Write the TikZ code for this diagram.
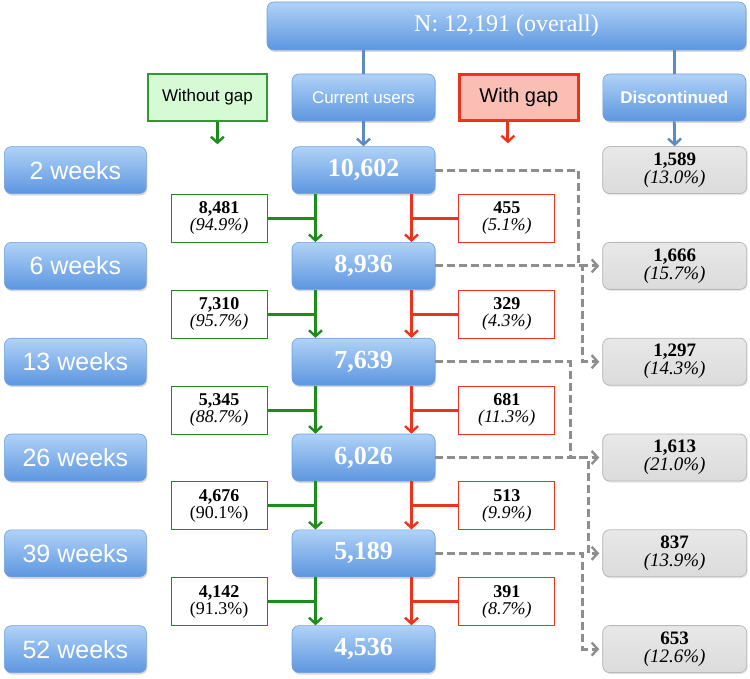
\documentclass[tikz,border=0pt]{standalone}
\usepackage{fontspec}
\setmainfont{Liberation Serif}
\setsansfont{Liberation Sans}
\usepackage{xcolor}
\usetikzlibrary{arrows.meta,positioning,shadows}

\definecolor{bluetop}{RGB}{176,210,247}
\definecolor{bluebot}{RGB}{92,150,224}
\definecolor{blueedge}{RGB}{112,160,218}
\definecolor{blueline}{RGB}{92,138,194}
\definecolor{keepgreen}{RGB}{28,140,28}
\definecolor{gapred}{RGB}{236,52,28}
\definecolor{gapfill}{RGB}{250,190,180}
\definecolor{keepfill}{RGB}{214,250,212}
\definecolor{dropgray}{RGB}{142,142,142}

\begin{document}
\begin{tikzpicture}[
  x=1pt, y=-1pt,
  bluebox/.style={draw=blueedge, line width=0.6pt, rounded corners=7pt,
    top color=bluetop, bottom color=bluebot, text=white, inner sep=0pt,
    minimum width=143pt, minimum height=47pt,
    drop shadow={shadow xshift=1pt, shadow yshift=-2pt, opacity=0.3}},
  topbox/.style={bluebox, minimum width=479pt, minimum height=48pt,
    font=\fontsize{24}{26}\selectfont},
  headbox/.style={bluebox, minimum height=47pt, font=\sffamily\fontsize{17}{19}\selectfont},
  weekbox/.style={bluebox, minimum width=142pt, font=\sffamily\fontsize{25}{28}\selectfont},
  userbox/.style={bluebox, font=\bfseries\fontsize{26}{28}\selectfont},
  nogaphead/.style={draw=keepgreen!90, line width=1.6pt, fill=keepfill, inner sep=0pt,
    minimum width=119pt, minimum height=47pt, font=\sffamily\fontsize{17}{19}\selectfont},
  gaphead/.style={draw=gapred, line width=2.2pt, fill=gapfill, inner sep=0pt,
    minimum width=119pt, minimum height=46pt, font=\sffamily\fontsize{20}{22}\selectfont},
  count/.style={fill=white, line width=1pt, inner sep=0pt, align=center,
    minimum width=96pt, minimum height=48pt, font=\fontsize{18}{17}\selectfont},
  nogapcount/.style={count, draw=keepgreen},
  gapcount/.style={count, draw=gapred},
  dropbox/.style={draw=gray!55, line width=0.8pt, rounded corners=7pt,
    top color=gray!18, bottom color=gray!28, inner sep=0pt, align=center,
    minimum width=144pt, minimum height=47pt, font=\fontsize{19}{18}\selectfont,
    drop shadow={shadow xshift=1pt, shadow yshift=-1.5pt, opacity=0.2}},
  blueline/.style={draw=blueline, line width=2.8pt},
  bluearr/.style={blueline, -{Straight Barb[length=6pt, width=13pt, line width=2.4pt]}},
  keepline/.style={draw=keepgreen, line width=3pt},
  keeparr/.style={keepline, -{Straight Barb[length=6pt, width=13pt, line width=2.4pt]}},
  gapline/.style={draw=gapred, line width=3pt},
  gaparr/.style={gapline, -{Straight Barb[length=6pt, width=13pt, line width=2.4pt]}},
  droparr/.style={draw=dropgray, line width=3pt, dash pattern=on 8pt off 4pt,
    -{Straight Barb[length=6pt, width=13pt, line width=2.4pt]}, shorten >=3pt},
]
\useasboundingbox (0,0) rectangle (750,679);

% Header
\node[topbox] (all) at (506.5,26) {N: 12,191 (overall)};
\node[headbox] (cur) at (363.5,97.5) {Current users};
\node[nogaphead, left=24pt of cur] (nogap) {Without gap};
\node[gaphead, right=23pt of cur] (gap) {With gap};
\node[headbox, right=23pt of gap, font=\sffamily\bfseries\fontsize{17}{19}\selectfont] (disc) {Discontinued};

% Current users per visit
\node[userbox, below=25pt of cur] (u1) {10,602};
\node[userbox, below=48.2pt of u1] (u2) {8,936};
\node[userbox, below=48.2pt of u2] (u3) {7,639};
\node[userbox, below=48.2pt of u3] (u4) {6,026};
\node[userbox, below=48.2pt of u4] (u5) {5,189};
\node[userbox, below=48.2pt of u5] (u6) {4,536};

% Time points
\node[weekbox, left=145pt of u1] (w1) {2 weeks};
\node[weekbox, left=145pt of u2] (w2) {6 weeks};
\node[weekbox, left=145pt of u3] (w3) {13 weeks};
\node[weekbox, left=145pt of u4] (w4) {26 weeks};
\node[weekbox, left=145pt of u5] (w5) {39 weeks};
\node[weekbox, left=145pt of u6] (w6) {52 weeks};

% Discontinued
\node[dropbox, right=167pt of u1] (d1) {\textbf{1,589}\\\textit{(13.0\%)}};
\node[dropbox, right=167pt of u2] (d2) {\textbf{1,666}\\\textit{(15.7\%)}};
\node[dropbox, right=167pt of u3] (d3) {\textbf{1,297}\\\textit{(14.3\%)}};
\node[dropbox, right=167pt of u4] (d4) {\textbf{1,613}\\\textit{(21.0\%)}};
\node[dropbox, right=167pt of u5] (d5) {\textbf{837}\\\textit{(13.9\%)}};
\node[dropbox, right=167pt of u6] (d6) {\textbf{653}\\\textit{(12.6\%)}};

% Without gap / with gap counts
\node[nogapcount, below left=0pt and 24pt of u1.south west] (k1) {\textbf{8,481}\\\textit{(94.9\%)}};
\node[nogapcount, below left=0pt and 24pt of u2.south west] (k2) {\textbf{7,310}\\\textit{(95.7\%)}};
\node[nogapcount, below left=0pt and 24pt of u3.south west] (k3) {\textbf{5,345}\\\textit{(88.7\%)}};
\node[nogapcount, below left=0pt and 24pt of u4.south west] (k4) {\textbf{4,676}\\(90.1\%)};
\node[nogapcount, below left=0pt and 24pt of u5.south west] (k5) {\textbf{4,142}\\(91.3\%)};
\node[gapcount, below right=0pt and 23pt of u1.south east] (g1) {\textbf{455}\\\textit{(5.1\%)}};
\node[gapcount, below right=0pt and 23pt of u2.south east] (g2) {\textbf{329}\\\textit{(4.3\%)}};
\node[gapcount, below right=0pt and 23pt of u3.south east] (g3) {\textbf{681}\\\textit{(11.3\%)}};
\node[gapcount, below right=0pt and 23pt of u4.south east] (g4) {\textbf{513}\\\textit{(9.9\%)}};
\node[gapcount, below right=0pt and 23pt of u5.south east] (g5) {\textbf{391}\\\textit{(8.7\%)}};

% Header connectors
\draw[blueline] (all.south -| cur) -- (cur.north);
\draw[blueline] (all.south -| disc) -- (disc.north);
\draw[bluearr] (cur.south) -- (u1.north);
\draw[bluearr] (disc.south) -- (d1.north);
\draw[keeparr, shorten >=2pt] ([xshift=10pt]nogap.south) -- ([xshift=10pt]nogap.south |- u1.north);
\draw[gaparr, shorten >=3pt] ([xshift=-11pt]gap.south) -- ([xshift=-11pt]gap.south |- u1.north);

% Between visits
\draw[keeparr] ([xshift=-48pt]u1.south) coordinate (a1) -- ([xshift=-48pt]u2.north);
\draw[keeparr] ([xshift=-48pt]u2.south) coordinate (a2) -- ([xshift=-48pt]u3.north);
\draw[keeparr] ([xshift=-48pt]u3.south) coordinate (a3) -- ([xshift=-48pt]u4.north);
\draw[keeparr] ([xshift=-48pt]u4.south) coordinate (a4) -- ([xshift=-48pt]u5.north);
\draw[keeparr] ([xshift=-48pt]u5.south) coordinate (a5) -- ([xshift=-48pt]u6.north);
\draw[keepline] (k1.east) -- (k1.east -| a1);
\draw[keepline] (k2.east) -- (k2.east -| a2);
\draw[keepline] (k3.east) -- (k3.east -| a3);
\draw[keepline] (k4.east) -- (k4.east -| a4);
\draw[keepline] (k5.east) -- (k5.east -| a5);

\draw[gaparr] ([xshift=48pt]u1.south) coordinate (b1) -- ([xshift=48pt]u2.north);
\draw[gaparr] ([xshift=48pt]u2.south) coordinate (b2) -- ([xshift=48pt]u3.north);
\draw[gaparr] ([xshift=48pt]u3.south) coordinate (b3) -- ([xshift=48pt]u4.north);
\draw[gaparr] ([xshift=48pt]u4.south) coordinate (b4) -- ([xshift=48pt]u5.north);
\draw[gaparr] ([xshift=48pt]u5.south) coordinate (b5) -- ([xshift=48pt]u6.north);
\draw[gapline] (g1.west) -- (g1.west -| b1);
\draw[gapline] (g2.west) -- (g2.west -| b2);
\draw[gapline] (g3.west) -- (g3.west -| b3);
\draw[gapline] (g4.west) -- (g4.west -| b4);
\draw[gapline] (g5.west) -- (g5.west -| b5);

% Drop-outs
\draw[droparr] (u1.east) -| ([xshift=-24pt]d2.west) -- (d2.west);
\draw[droparr] (u2.east) -| ([xshift=-20pt]d3.west) -- (d3.west);
\draw[droparr] (u3.east) -| ([xshift=-32pt]d4.west) -- (d4.west);
\draw[droparr] (u4.east) -| ([xshift=-14pt]d5.west) -- (d5.west);
\draw[droparr] (u5.east) -| ([xshift=-20pt]d6.west) -- (d6.west);

\end{tikzpicture}
\end{document}
